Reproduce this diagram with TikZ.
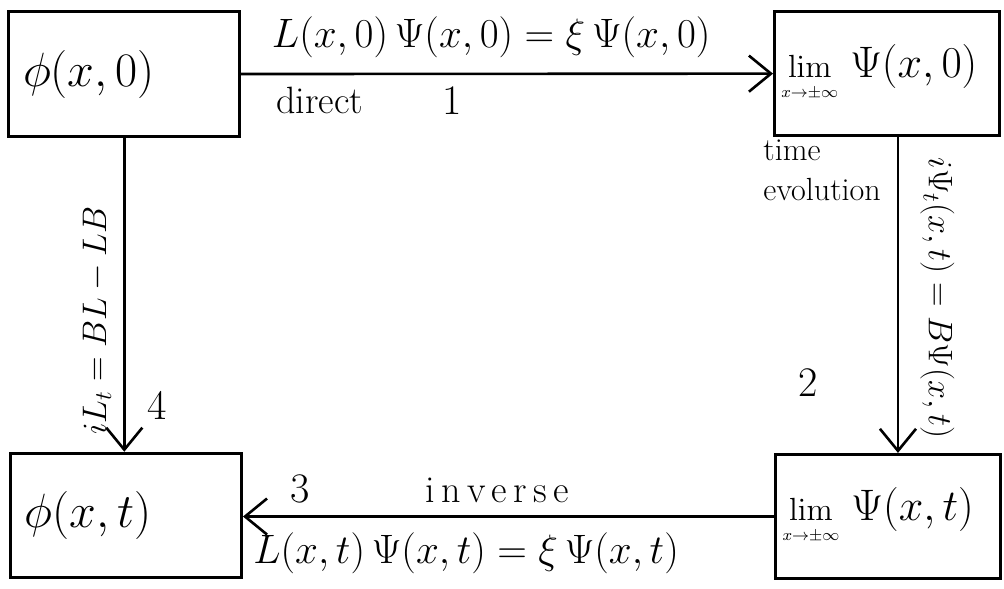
\RequirePackage{fix-cm}
\documentclass[tikz,border=0pt]{standalone}
\usepackage{amsmath}
\usetikzlibrary{arrows.meta}

\newcommand{\limpsi}[1]{{\fontsize{16}{18}\selectfont$\lim\limits_{\scriptscriptstyle x\to\pm\infty}$}\hspace{6pt}$\Psi(x,#1)$}

\begin{document}
\begin{tikzpicture}[
        statebox/.style={draw, line width=1.5pt, text width=3.55cm,
                         inner xsep=0.25cm, align=left,
                         minimum height=2.18cm, font=\fontsize{24}{28}\selectfont},
        limbox/.style={statebox, text width=3.71cm, inner xsep=0.12cm,
                       font=\fontsize{22}{26}\selectfont},
        eqlabel/.style={font=\fontsize{20.5}{24}\selectfont},
        wordlabel/.style={font=\fontsize{16}{20}\selectfont, align=left},
        steplabel/.style={font=\fontsize{21}{25}\selectfont},
        flow/.style={->, line width=1.3pt},
        >={Straight Barb[length=11pt, width=18pt, line width=1.3pt]}
    ]
        \useasboundingbox (0,0) rectangle (17.61,10.32);

        \node[statebox] (phi0) at (2.18, 9.02) {$\phi(x,0)$};
        \node[limbox] (psi0) at (15.56, 9.03) {\limpsi{0}};
        \node[statebox] (phit) at (2.21, 1.28) {$\phi(x,t)$};
        \node[limbox] (psit) at (15.58, 1.26) {\limpsi{t}};

        % direct scattering, step 1
        \draw[flow] (phi0) -- node[eqlabel, above=4pt, pos=0.47] (eqdir)
            {$L(x,0)\,\Psi(x,0) = \xi\,\Psi(x,0)$} (psi0);
        \node[wordlabel, font=\fontsize{19}{22}\selectfont] (direct) at (5.61, 8.56) {direct};
        \node[steplabel] (one) at (7.93, 8.56) {1};

        % time evolution, step 2
        \coordinate (rx) at ([xshift=0.19cm]psi0.south);
        \draw[flow] (rx) -- (rx |- psit.north);
        \node[eqlabel, font=\fontsize{17}{20}\selectfont, rotate=-90] (eqevo) at (16.44, 5.09)
            {$i\Psi_t(x,t) = B\Psi(x,t)$};
        \node[wordlabel] (evo) at (14.42, 7.33) {time\\evolution};
        \node[steplabel] (two) at (14.18, 3.61) {2};

        % inverse scattering, step 3
        \draw[flow] (psit.west) -- node[eqlabel, below=4pt, pos=0.58] (eqinv)
            {$L(x,t)\,\Psi(x,t) = \xi\,\Psi(x,t)$} (psit.west -| phit.east);
        \node[steplabel] (three) at (5.26, 1.75) {3};
        \node[wordlabel, font=\fontsize{19}{22}\selectfont] (inverse) at (8.72, 1.72)
            {i\,n\,v\,e\,r\,s\,e};

        % Lax equation, step 4
        \draw[flow] (phi0.south) -- (phi0.south |- phit.north);
        \node[eqlabel, font=\fontsize{17}{20}\selectfont, rotate=90] (eqlax) at (1.70, 4.70)
            {$iL_t = BL - LB$};
        \node[steplabel] (four) at (2.75, 3.21) {4};
    \end{tikzpicture}
\end{document}
